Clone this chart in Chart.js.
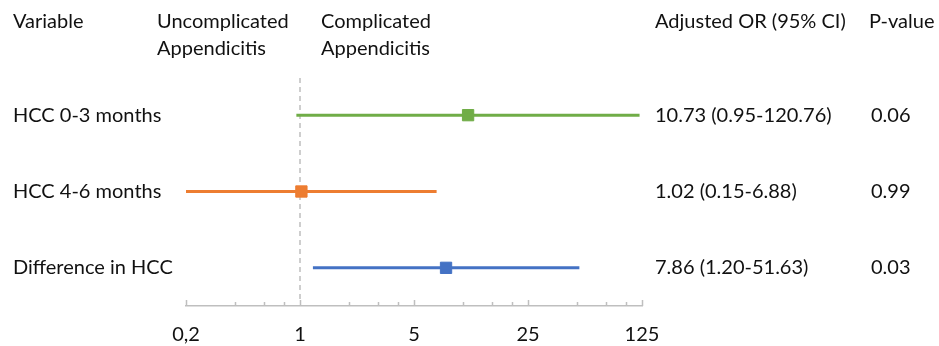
<!DOCTYPE html>
<html>
<head>
<meta charset="utf-8">
<script src="https://cdn.jsdelivr.net/npm/chart.js@4"></script>
<style>
html,body{margin:0;padding:0;background:#fff}
#wrap{width:939px;height:346px}
</style>
</head>
<body>
<div id="wrap"><canvas id="c"></canvas></div>
<script>
const rowLabels=["HCC 0-3 months","HCC 4-6 months","Difference in HCC"];
const orValues=[10.73,1.02,7.86];
const ciLow=[0.95,0.15,1.20];
const ciHigh=[120.76,6.88,51.63];
const pValues=["0.06","0.99","0.03"];
const rowColors=["#70ad47","#ed7d31","#4472c4"];
const majorTicks=[0.2,1,5,25,125];
const minorTicks=[0.4,0.6,0.8,2,3,4,10,15,20,50,75,100];

const FONT="Lato";
const FSIZE=20;
const TXT="#111";
const GRAY="#bfbfbf";

// CI lines first, then the squares on top
const datasets=[];
rowLabels.forEach((r,i)=>{
    datasets.push({
        data:[{x:ciLow[i],y:r},{x:ciHigh[i],y:r}],
        showLine:true,borderColor:rowColors[i],borderWidth:3,pointRadius:0
    });
});
rowLabels.forEach((r,i)=>{
    datasets.push({
        data:[{x:orValues[i],y:r}],
        pointStyle:'rect',pointRadius:8,pointBorderWidth:1,
        backgroundColor:rowColors[i],borderColor:rowColors[i]
    });
});

const extras={
    id:'extras',
    beforeDatasetsDraw(chart){
        const ctx=chart.ctx,x=chart.scales.x,a=chart.chartArea;
        const px=x.getPixelForValue(1);
        ctx.save();
        ctx.strokeStyle=GRAY;ctx.lineWidth=1.5;ctx.setLineDash([5,4]);
        ctx.beginPath();ctx.moveTo(px,a.top+1);ctx.lineTo(px,a.bottom-5);ctx.stroke();
        ctx.restore();
    },
    afterDraw(chart){
        const ctx=chart.ctx,x=chart.scales.x,y=chart.scales.y,a=chart.chartArea;
        ctx.save();
        // tick marks pointing up from the axis
        ctx.strokeStyle=GRAY;ctx.lineWidth=1.5;
        majorTicks.concat(minorTicks).forEach(v=>{
            const px=Math.round(x.getPixelForValue(v))+0.5;
            const len=majorTicks.includes(v)?6:4;
            ctx.beginPath();ctx.moveTo(px,a.bottom);ctx.lineTo(px,a.bottom-len);ctx.stroke();
        });
        ctx.fillStyle=TXT;
        ctx.font=FSIZE+"px "+FONT;
        ctx.textAlign='left';ctx.textBaseline='middle';
        ctx.fillText("Variable",13,22);
        ctx.fillText("Uncomplicated",157,22);
        ctx.fillText("Appendicitis",157,49);
        ctx.fillText("Complicated",321,22);
        ctx.fillText("Appendicitis",321,49);
        ctx.fillText("Adjusted OR (95% CI)",655,22);
        ctx.fillText("P-value",869,22);
        rowLabels.forEach((r,i)=>{
            const py=y.getPixelForValue(i);
            ctx.fillText(orValues[i].toFixed(2)+" ("+ciLow[i].toFixed(2)+"-"+ciHigh[i].toFixed(2)+")",655,py);
            ctx.fillText(pValues[i],871,py);
        });
        ctx.restore();
    }
};

new Chart(document.getElementById("c"),{
    type:'scatter',
    data:{datasets:datasets},
    options:{
        responsive:true,maintainAspectRatio:false,animation:false,
        layout:{padding:{left:13,right:297,top:77,bottom:0}},
        plugins:{legend:{display:false},tooltip:{enabled:false}},
        scales:{
            x:{
                type:'logarithmic',min:0.2,max:125,
                afterBuildTicks:s=>{s.ticks=majorTicks.concat(minorTicks).sort((p,q)=>p-q).map(v=>({value:v}));},
                afterFit:s=>{s.height=40;},
                grid:{display:false,drawTicks:false},
                border:{display:true,color:GRAY,width:1.5},
                ticks:{
                    autoSkip:false,maxRotation:0,padding:17,color:TXT,
                    font:{family:FONT,size:FSIZE},
                    callback:v=>majorTicks.includes(v)?String(v).replace('.',','):''
                }
            },
            y:{
                type:'category',labels:rowLabels,offset:true,
                afterFit:s=>{s.width=173;},
                grid:{display:false},
                border:{display:false},
                ticks:{crossAlign:'far',color:TXT,font:{family:FONT,size:FSIZE}}
            }
        }
    },
    plugins:[extras]
});
</script>
</body>
</html>
